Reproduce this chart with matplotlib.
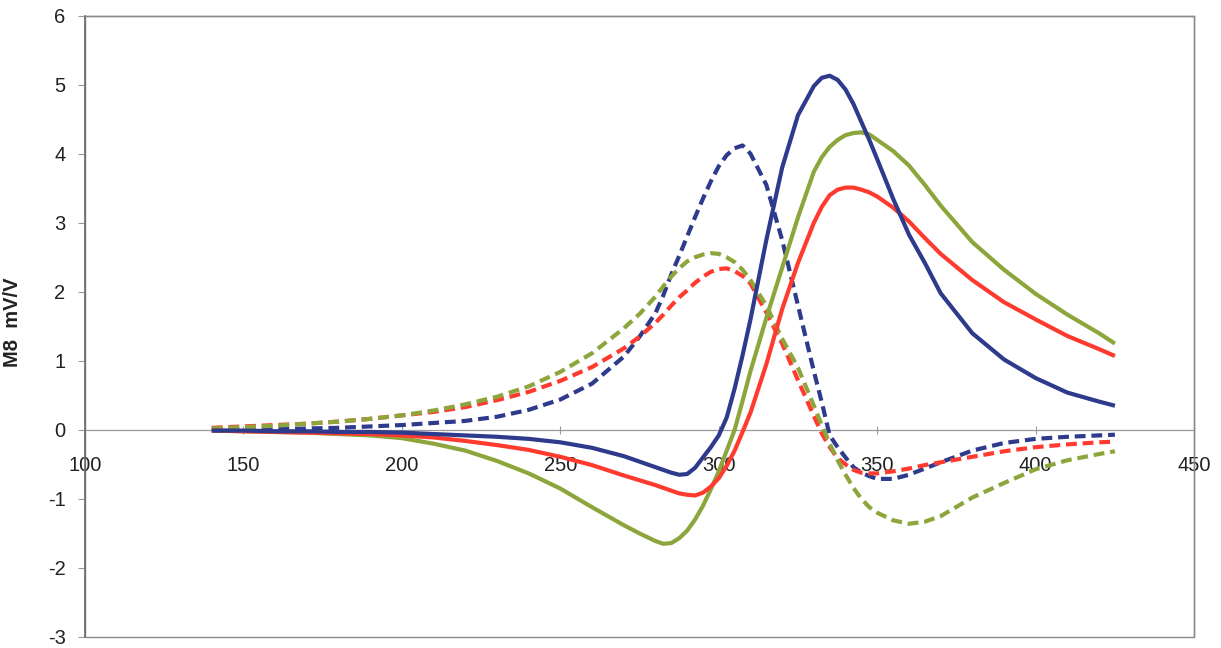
import matplotlib
matplotlib.use("Agg")
import matplotlib.pyplot as plt
from matplotlib.patches import Rectangle

plt.rcParams['font.family'] = ['Liberation Sans', 'DejaVu Sans']
plt.rcParams['axes.unicode_minus'] = False

x = [140, 150, 160, 170, 180, 190, 200, 210, 220, 230, 240, 250, 260, 270,
     275, 280, 282.5, 285, 287.5, 290, 292.5, 295, 297.5, 300, 302.5, 305, 307.5, 310,
     315, 320, 325, 330, 332.5, 335, 337.5, 340, 342.5, 345, 347.5, 350,
     355, 360, 365, 370, 380, 390, 400, 410, 420, 425]

blue_solid = [-0.01, -0.01, -0.02, -0.02, -0.03, -0.03, -0.04, -0.06, -0.08, -0.10,
              -0.13, -0.18, -0.26, -0.38,
              -0.46, -0.54, -0.58, -0.62, -0.65, -0.64, -0.55, -0.40, -0.25, -0.08,
              0.18, 0.60, 1.08, 1.60,
              2.75, 3.80, 4.56, 4.98, 5.10, 5.13, 5.07, 4.93, 4.72, 4.46, 4.20, 3.92,
              3.35, 2.83, 2.42, 1.98, 1.40, 1.02, 0.75, 0.54, 0.41, 0.35]

green_solid = [-0.01, -0.02, -0.03, -0.04, -0.06, -0.08, -0.12, -0.20, -0.30, -0.45,
               -0.63, -0.85, -1.12, -1.38,
               -1.50, -1.61, -1.65, -1.64, -1.57, -1.46, -1.30, -1.10, -0.86, -0.60,
               -0.30, 0.00, 0.42, 0.85,
               1.62, 2.35, 3.08, 3.74, 3.95, 4.10, 4.20, 4.27, 4.30, 4.31, 4.28, 4.20,
               4.04, 3.83, 3.55, 3.25, 2.72, 2.32, 1.97, 1.67, 1.40, 1.25]

red_solid = [-0.01, -0.02, -0.03, -0.04, -0.05, -0.06, -0.08, -0.11, -0.16, -0.22,
             -0.29, -0.39, -0.51, -0.66,
             -0.73, -0.80, -0.84, -0.88, -0.92, -0.94, -0.95, -0.91, -0.82, -0.70,
             -0.52, -0.30, -0.03, 0.25,
             0.95, 1.75, 2.42, 3.00, 3.23, 3.40, 3.48, 3.51, 3.51, 3.48, 3.44, 3.38,
             3.22, 3.02, 2.78, 2.55, 2.17, 1.85, 1.60, 1.36, 1.17, 1.07]

blue_dashed = [0.00, 0.00, 0.01, 0.02, 0.03, 0.05, 0.07, 0.10, 0.13, 0.19,
               0.29, 0.44, 0.67, 1.06,
               1.35, 1.69, 1.95, 2.25, 2.52, 2.80, 3.08, 3.35, 3.60, 3.82,
               3.98, 4.08, 4.12, 4.00,
               3.55, 2.75, 1.80, 0.85, 0.40, -0.08, -0.25, -0.40, -0.54, -0.62, -0.67, -0.71,
               -0.71, -0.65, -0.56, -0.47, -0.30, -0.19, -0.13, -0.10, -0.08, -0.07]

red_dashed = [0.03, 0.05, 0.07, 0.09, 0.12, 0.16, 0.21, 0.26, 0.33, 0.43,
              0.55, 0.71, 0.91, 1.18,
              1.35, 1.55, 1.67, 1.80, 1.92, 2.02, 2.13, 2.22, 2.29, 2.33,
              2.34, 2.30, 2.23, 2.12,
              1.70, 1.25, 0.72, 0.20, -0.05, -0.25, -0.41, -0.50, -0.58, -0.62, -0.63, -0.63,
              -0.60, -0.56, -0.51, -0.47, -0.39, -0.31, -0.25, -0.21, -0.18, -0.17]

green_dashed = [0.02, 0.04, 0.06, 0.09, 0.12, 0.16, 0.21, 0.28, 0.37, 0.48,
                0.63, 0.84, 1.11, 1.47,
                1.68, 1.93, 2.08, 2.22, 2.34, 2.44, 2.50, 2.54, 2.56, 2.55,
                2.50, 2.43, 2.32, 2.17,
                1.80, 1.32, 0.90, 0.35, 0.07, -0.20, -0.44, -0.65, -0.84, -1.00, -1.12, -1.20,
                -1.31, -1.36, -1.33, -1.25, -0.98, -0.77, -0.57, -0.44, -0.35, -0.31]

x_ticks = [100, 150, 200, 250, 300, 350, 400, 450]
y_ticks = [-3, -2, -1, 0, 1, 2, 3, 4, 5, 6]
y_label = "M8  mV/V"

BLUE = "#2E3A8C"
GREEN = "#8DA63C"
RED = "#FF3B30"

fig = plt.figure(figsize=(12.21, 6.48), dpi=100)
ax = fig.add_axes([0.0696, 0.017, 0.9084, 0.9588])

lw = 3.0
dash = (2.6, 1.4)
common = dict(lw=lw, solid_joinstyle='round', dash_joinstyle='round')
ax.plot(x, blue_dashed, color=BLUE, dashes=dash, dash_capstyle='butt', **common)
ax.plot(x, red_dashed, color=RED, dashes=dash, dash_capstyle='butt', **common)
ax.plot(x, green_dashed, color=GREEN, dashes=dash, dash_capstyle='butt', **common)
ax.plot(x, green_solid, color=GREEN, solid_capstyle='butt', **common)
ax.plot(x, red_solid, color=RED, solid_capstyle='butt', **common)
ax.plot(x, blue_solid, color=BLUE, solid_capstyle='butt', **common)

ax.set_xlim(100, 450)
ax.set_ylim(-3, 6)
ax.set_xticks(x_ticks)
ax.set_yticks(y_ticks)

ax.spines['bottom'].set_position(('data', 0))
ax.spines['bottom'].set_color('#9a9a9a')
ax.spines['bottom'].set_linewidth(0.9)
ax.spines['bottom'].set_zorder(0)
for s in ['top', 'right']:
    ax.spines[s].set_color('#8a8a8a')
    ax.spines[s].set_linewidth(1.0)
ax.spines['left'].set_color('#6a6a6a')
ax.spines['left'].set_linewidth(1.2)
ax.add_patch(Rectangle((0, 0), 1, 1, transform=ax.transAxes, fill=False,
                       ec='#8a8a8a', lw=1.0, zorder=0, clip_on=False))

ax.tick_params(axis='x', direction='inout', length=6, width=0.8, color='#9a9a9a',
               pad=16, labelsize=14.5, labelcolor='#222222')
ax.tick_params(axis='y', direction='out', length=5, width=0.8, color='#9a9a9a',
               pad=9, labelsize=14.5, labelcolor='#222222')

ax.set_ylabel(y_label, fontsize=14.5, fontweight='bold', color='#222222')
ax.yaxis.set_label_coords(-0.057, 0.506)

fig.savefig("out.png", dpi=100)
